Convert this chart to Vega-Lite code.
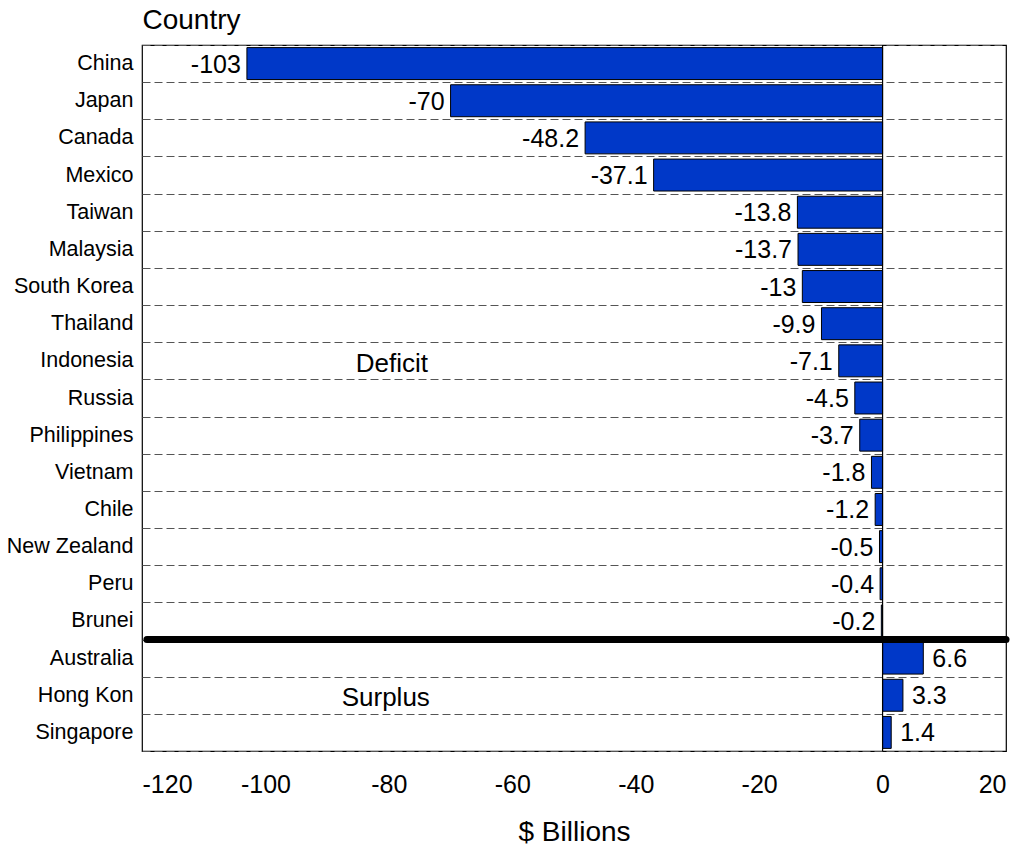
{
  "$schema": "https://vega.github.io/schema/vega-lite/v6.json",
  "width": 864,
  "height": 706,
  "autosize": {"type": "none"},
  "padding": {"left": 142, "top": 45, "right": 23, "bottom": 95},
  "background": "white",
  "config": {
    "font": "Liberation Sans",
    "view": {"stroke": "#000", "strokeWidth": 1.2}
  },
  "datasets": {
    "trade": [
      {"country": "China", "value": -103},
      {"country": "Japan", "value": -70},
      {"country": "Canada", "value": -48.2},
      {"country": "Mexico", "value": -37.1},
      {"country": "Taiwan", "value": -13.8},
      {"country": "Malaysia", "value": -13.7},
      {"country": "South Korea", "value": -13},
      {"country": "Thailand", "value": -9.9},
      {"country": "Indonesia", "value": -7.1},
      {"country": "Russia", "value": -4.5},
      {"country": "Philippines", "value": -3.7},
      {"country": "Vietnam", "value": -1.8},
      {"country": "Chile", "value": -1.2},
      {"country": "New Zealand", "value": -0.5},
      {"country": "Peru", "value": -0.4},
      {"country": "Brunei", "value": -0.2},
      {"country": "Australia", "value": 6.6},
      {"country": "Hong Kon", "value": 3.3},
      {"country": "Singapore", "value": 1.4}
    ],
    "notes": [
      {"country": "Indonesia", "x": -79.5, "label": "Deficit"},
      {"country": "Hong Kon", "x": -80.5, "label": "Surplus"}
    ],
    "divider": [
      {"country": "Australia", "x": -119.2, "x2": 20}
    ]
  },
  "layer": [
    {
      "data": {"name": "trade"},
      "mark": {"type": "bar", "color": "#0038C8", "stroke": "#000", "strokeWidth": 1, "height": {"band": 0.86}},
      "encoding": {
        "y": {
          "field": "country",
          "type": "nominal",
          "sort": null,
          "scale": {
            "domain": ["China", "Japan", "Canada", "Mexico", "Taiwan", "Malaysia", "South Korea", "Thailand", "Indonesia", "Russia", "Philippines", "Vietnam", "Chile", "New Zealand", "Peru", "Brunei", "Australia", "Hong Kon", "Singapore"],
            "paddingInner": 0,
            "paddingOuter": 0
          },
          "axis": {
            "title": "Country",
            "titleAngle": 0,
            "titleAlign": "left",
            "titleBaseline": "alphabetic",
            "titleX": 0,
            "titleY": -17,
            "titleFontSize": 28,
            "titleFontWeight": "normal",
            "titleColor": "#000",
            "labelFontSize": 21.5,
            "labelColor": "#000",
            "labelPadding": 9,
            "ticks": false,
            "domain": false,
            "grid": true,
            "tickBand": "extent",
            "gridDash": [8, 4],
            "gridColor": "#555",
            "gridWidth": 1
          }
        },
        "x": {
          "field": "value",
          "type": "quantitative",
          "scale": {"domain": [-120, 20], "nice": false, "zero": false},
          "axis": {
            "title": "$ Billions",
            "titleFontSize": 28,
            "titleFontWeight": "normal",
            "titleColor": "#000",
            "titlePadding": 21,
            "values": [-120, -100, -80, -60, -40, -20, 0, 20],
            "labelExpr": "toString(datum.value)",
            "labelFontSize": 25,
            "labelColor": "#000",
            "labelPadding": 21,
            "ticks": false,
            "domain": false,
            "grid": false
          }
        }
      }
    },
    {
      "data": {"name": "trade"},
      "transform": [{"filter": "datum.value < 0"}],
      "mark": {"type": "text", "align": "right", "baseline": "middle", "dx": -6, "dy": 1, "fontSize": 25, "color": "#000"},
      "encoding": {
        "y": {"field": "country", "type": "nominal", "sort": null},
        "x": {"field": "value", "type": "quantitative"},
        "text": {"field": "value", "type": "nominal"}
      }
    },
    {
      "data": {"name": "trade"},
      "transform": [{"filter": "datum.value > 0"}],
      "mark": {"type": "text", "align": "left", "baseline": "middle", "dx": 9, "dy": 1, "fontSize": 25, "color": "#000"},
      "encoding": {
        "y": {"field": "country", "type": "nominal", "sort": null},
        "x": {"field": "value", "type": "quantitative"},
        "text": {"field": "value", "type": "nominal"}
      }
    },
    {
      "data": {"values": [{"x": 0}]},
      "mark": {"type": "rule", "color": "#000", "strokeWidth": 1.2},
      "encoding": {"x": {"field": "x", "type": "quantitative"}}
    },
    {
      "data": {"name": "notes"},
      "mark": {"type": "text", "align": "center", "baseline": "middle", "dy": 3, "fontSize": 26, "color": "#000"},
      "encoding": {
        "y": {"field": "country", "type": "nominal", "sort": null},
        "x": {"field": "x", "type": "quantitative"},
        "text": {"field": "label", "type": "nominal"}
      }
    },
    {
      "data": {"name": "divider"},
      "mark": {"type": "rule", "color": "#000", "strokeWidth": 7, "strokeCap": "round"},
      "encoding": {
        "y": {"field": "country", "type": "nominal", "sort": null, "bandPosition": 0},
        "x": {"field": "x", "type": "quantitative"},
        "x2": {"field": "x2"}
      }
    }
  ]
}
